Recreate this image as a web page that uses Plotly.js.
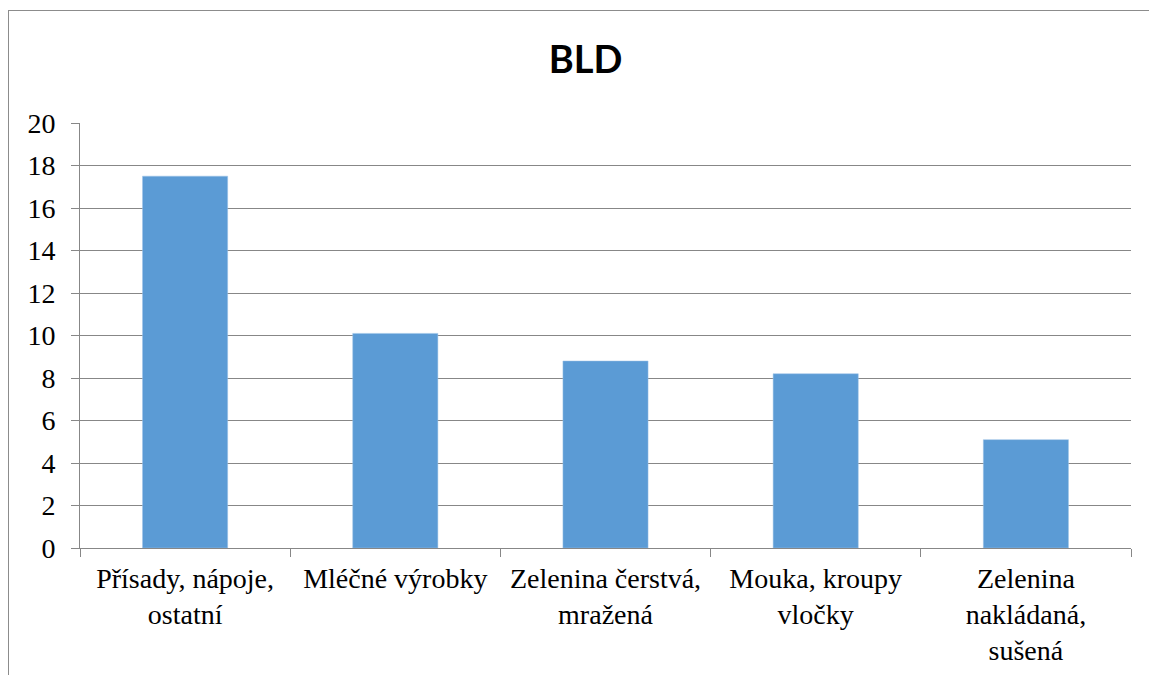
<!DOCTYPE html>
<html>
<head>
<meta charset="utf-8">
<script src="https://cdn.plot.ly/plotly-3.0.1.min.js"></script>
<style>
  html, body { margin: 0; padding: 0; background: #fff; overflow: hidden; }
  #wrap { position: relative; width: 1149px; height: 675px; overflow: hidden; }
  #chart { width: 1149px; height: 675px; }
  #frame { position: absolute; left: 8px; top: 10px; width: 1300px; height: 900px;
           border: 1px solid #8c8c8c; box-sizing: border-box; pointer-events: none; }
</style>
</head>
<body>
<div id="wrap">
  <div id="chart"></div>
  <div id="frame"></div>
</div>
<script>
const categories = [
  "Přísady, nápoje,<br>ostatní",
  "Mléčné výrobky",
  "Zelenina čerstvá,<br>mražená",
  "Mouka, kroupy<br>vločky",
  "Zelenina<br>nakládaná,<br>sušená"
];
const values = [17.5, 10.1, 8.8, 8.2, 5.1];
const yTicks = [0, 2, 4, 6, 8, 10, 12, 14, 16, 18, 20];
const chartTitle = "BLD";

const serif = "Liberation Serif, Times New Roman, Times, DejaVu Serif, serif";

const trace = {
  type: "bar",
  x: categories,
  y: values,
  marker: { color: "#5B9BD5", line: { color: "#9DC3E6", width: 0.5 } },
  hoverinfo: "x+y"
};

const layout = {
  width: 1149,
  height: 675,
  margin: { l: 80, r: 18, t: 123, b: 127 },
  paper_bgcolor: "rgba(0,0,0,0)",
  plot_bgcolor: "#ffffff",
  bargap: 0.595,
  showlegend: false,
  font: { family: serif, size: 28, color: "#000000" },
  title: {
    text: "<b>" + chartTitle + "</b>",
    font: { family: "Lato, Open Sans, sans-serif", size: 38, color: "#000000" },
    x: 585.5 / 1149, xref: "container", xanchor: "center",
    y: 1 - 60 / 675, yref: "container", yanchor: "middle"
  },
  xaxis: {
    type: "category",
    showline: true, linecolor: "#878787", linewidth: 1,
    ticks: "outside", tickson: "boundaries", ticklen: 8, tickcolor: "#878787", tickwidth: 1,
    showgrid: false,
    ticklabelstandoff: 5,
    tickfont: { family: serif, size: 28, color: "#000000" },
    tickangle: 0,
    automargin: false
  },
  yaxis: {
    range: [0, 20],
    tickvals: yTicks,
    ticktext: yTicks.map(String),
    showline: true, linecolor: "#878787", linewidth: 1,
    ticks: "outside", ticklen: 8, tickcolor: "#878787", tickwidth: 1,
    showgrid: true, gridcolor: "#878787", gridwidth: 1,
    zeroline: false,
    ticklabelstandoff: 10,
    tickfont: { family: serif, size: 28, color: "#000000" },
    automargin: false
  }
};

Plotly.newPlot("chart", [trace], layout, { displayModeBar: false, staticPlot: true });
</script>
</body>
</html>
